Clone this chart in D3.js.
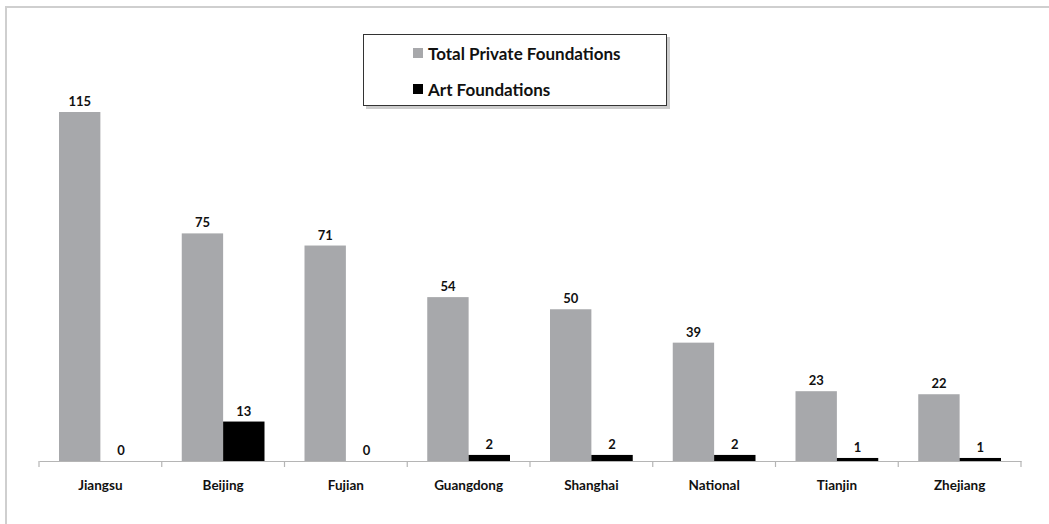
<!DOCTYPE html>
<html>
<head>
<meta charset="utf-8">
<script src="https://cdn.jsdelivr.net/npm/d3@7"></script>
<style>
body { margin: 0; background: #fff; }
svg text { font-family: Lato, "Open Sans", sans-serif; font-weight: bold; fill: #111; }
</style>
</head>
<body>
<script>
const w = 1049;
const h = 524;

var regions = ["Jiangsu", "Beijing", "Fujian", "Guangdong", "Shanghai", "National", "Tianjin", "Zhejiang"];
var totalPrivate = [115, 75, 71, 54, 50, 39, 23, 22];
var artFoundations = [0, 13, 0, 2, 2, 2, 1, 1];
var seriesNames = ["Total Private Foundations", "Art Foundations"];

var gray1 = "#a7a8ab";
var black1 = "#000000";

const svg = d3.select("body")
    .append("svg")
    .attr("width", w)
    .attr("height", h);

// outer frame, runs off the right and bottom edges
svg.append("rect")
    .attr("x", 6)
    .attr("y", 7)
    .attr("width", 1100)
    .attr("height", 600)
    .attr("fill", "none")
    .attr("stroke", "#cfcfcf")
    .attr("stroke-width", 2);

const baseY = 461;
const x = d3.scaleBand()
    .domain(regions)
    .range([39, 1021])
    .paddingInner(0)
    .paddingOuter(0);

const inner = d3.scaleBand()
    .domain([0, 1])
    .range([20, x.bandwidth() - 20]);

// 115 -> 349px
const y = d3.scaleLinear()
    .domain([0, 115])
    .range([baseY, 112]);

var rows = regions.map((r, i) => ({ region: r, vals: [totalPrivate[i], artFoundations[i]] }));

const groups = svg.selectAll("g.cat")
    .data(rows)
    .enter()
    .append("g")
    .attr("class", "cat")
    .attr("transform", d => "translate(" + x(d.region) + ",0)");

groups.selectAll("rect")
    .data(d => d.vals)
    .enter()
    .append("rect")
    .attr("x", (d, i) => inner(i))
    .attr("y", d => y(d))
    .attr("width", inner.bandwidth())
    .attr("height", d => baseY - y(d))
    .attr("fill", (d, i) => i == 0 ? gray1 : black1);

groups.selectAll("text.val")
    .data(d => d.vals)
    .enter()
    .append("text")
    .attr("class", "val")
    .attr("x", (d, i) => inner(i) + inner.bandwidth() / 2)
    .attr("y", d => y(d) - 6)
    .attr("text-anchor", "middle")
    .style("font-size", "13px")
    .text(d => d);

// axis
const axis = d3.axisBottom(x).tickSize(0).tickPadding(0);
const ax = svg.append("g")
    .attr("transform", "translate(0," + baseY + ")")
    .call(axis);
ax.select(".domain").attr("stroke", "#b5b5b5").attr("stroke-width", 1.2);
ax.selectAll(".tick text")
    .attr("y", 29)
    .attr("dy", 0)
    .style("font-size", "13.5px")
    .style("font-family", "Lato, 'Open Sans', sans-serif")
    .style("font-weight", "bold")
    .attr("fill", "#111");

// tick marks at band edges
var edges = regions.map(r => x(r)).concat([x.range()[1]]);
ax.selectAll("line.edge")
    .data(edges)
    .enter()
    .append("line")
    .attr("class", "edge")
    .attr("x1", d => d)
    .attr("x2", d => d)
    .attr("y1", 0)
    .attr("y2", 6)
    .attr("stroke", "#b5b5b5")
    .attr("stroke-width", 1.2);

// legend
const lg = svg.append("g");
lg.append("rect")
    .attr("x", 366)
    .attr("y", 37)
    .attr("width", 304)
    .attr("height", 72)
    .attr("fill", "#aaa")
    .attr("opacity", 0.6);
lg.append("rect")
    .attr("x", 363.5)
    .attr("y", 34.5)
    .attr("width", 303)
    .attr("height", 71)
    .attr("fill", "#fff")
    .attr("stroke", "#333")
    .attr("stroke-width", 1);

lg.selectAll("rect.key")
    .data(seriesNames)
    .enter()
    .append("rect")
    .attr("class", "key")
    .attr("x", 413)
    .attr("y", (d, i) => 48 + i * 36)
    .attr("width", 10)
    .attr("height", 10)
    .attr("fill", (d, i) => i == 0 ? gray1 : black1);

lg.selectAll("text.key")
    .data(seriesNames)
    .enter()
    .append("text")
    .attr("class", "key")
    .attr("x", 428)
    .attr("y", (d, i) => 60 + i * 36)
    .style("font-size", "17px")
    .text(d => d);
</script>
</body>
</html>
